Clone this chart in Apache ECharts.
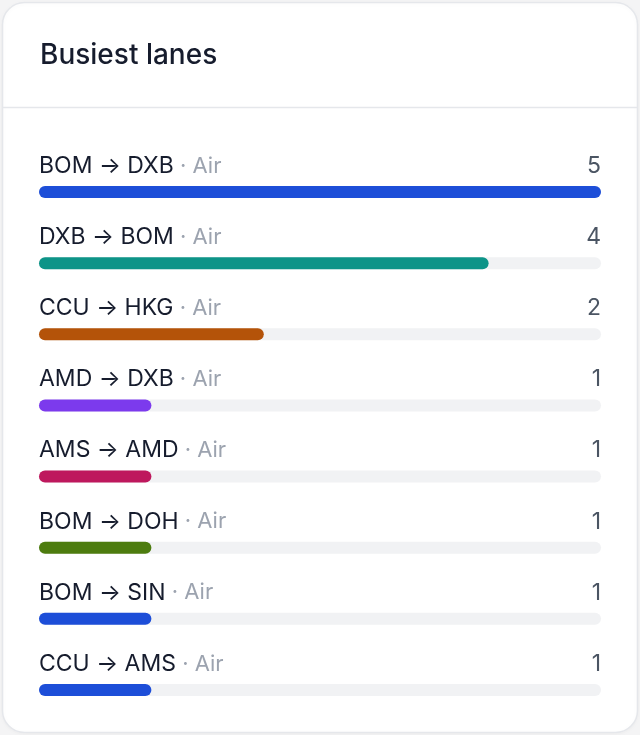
<!DOCTYPE html>
<html>
<head>
<meta charset="utf-8">
<script src="https://cdn.jsdelivr.net/npm/echarts@6/dist/echarts.min.js"></script>
<style>
html,body{margin:0;padding:0;background:#f4f4f5;}
#chart{width:640px;height:735px;}
</style>
</head>
<body>
<div id="chart"></div>
<script>
const lanes = ['BOM → DXB', 'DXB → BOM', 'CCU → HKG', 'AMD → DXB', 'AMS → AMD', 'BOM → DOH', 'BOM → SIN', 'CCU → AMS'];
const modes = ['Air', 'Air', 'Air', 'Air', 'Air', 'Air', 'Air', 'Air'];
const counts = [5, 4, 2, 1, 1, 1, 1, 1];
const barColors = ['#1d4ed8', '#0d9488', '#b45309', '#7c3aed', '#be185d', '#4d7c0f', '#1d4ed8', '#1d4ed8'];
const maxCount = 5;

const FONT = 'Inter, "Noto Sans", sans-serif';
const chart = echarts.init(document.getElementById('chart'), null, {renderer: 'canvas'});

chart.setOption({
  backgroundColor: 'transparent',
  animation: false,
  graphic: [
    {type: 'rect', shape: {x: 2.5, y: 2.5, width: 635, height: 730, r: 22},
     style: {fill: '#ffffff', stroke: '#e5e7eb', lineWidth: 1.5,
       shadowBlur: 4, shadowColor: 'rgba(0,0,0,0.04)', shadowOffsetY: 1}, z: -10},
    {type: 'line', shape: {x1: 3, y1: 107.5, x2: 637, y2: 107.5},
     style: {stroke: '#e5e7eb', lineWidth: 1.5}, z: -9},
    {type: 'text', left: 40, top: 42,
     style: {text: 'Busiest lanes', fill: '#161c2d', font: '500 28px ' + FONT}}
  ],
  grid: {left: 39, right: 39, top: 156.5, bottom: 9.5, containLabel: false},
  xAxis: {type: 'value', min: 0, max: maxCount, show: false},
  yAxis: {type: 'category', data: lanes, inverse: true, show: false},
  series: [
    {
      type: 'bar',
      data: counts.map((v, i) => ({value: v, itemStyle: {color: barColors[i]}})),
      barWidth: 12,
      itemStyle: {borderRadius: 6},
      showBackground: true,
      backgroundStyle: {color: '#f1f2f4', borderRadius: 6},
      z: 3
    },
    {
      type: 'bar',
      data: counts.map(() => maxCount),
      barWidth: 12,
      barGap: '-100%',
      itemStyle: {color: 'rgba(0,0,0,0)'},
      silent: true,
      z: 1,
      label: {
        show: true,
        position: [0, -20],
        align: 'left',
        verticalAlign: 'middle',
        formatter: p => '{a|' + lanes[p.dataIndex] + '}{b| · ' + modes[p.dataIndex] + '}',
        rich: {
          a: {fontFamily: FONT, fontSize: 23, color: '#161c2d'},
          b: {fontFamily: FONT, fontSize: 22, color: '#9ca3af'}
        }
      }
    },
    {
      type: 'bar',
      data: counts.map(() => maxCount),
      barWidth: 12,
      barGap: '-100%',
      itemStyle: {color: 'rgba(0,0,0,0)'},
      silent: true,
      z: 1,
      label: {
        show: true,
        position: ['100%', -20],
        align: 'right',
        verticalAlign: 'middle',
        formatter: p => String(counts[p.dataIndex]),
        fontFamily: FONT, fontSize: 23, color: '#4b5563'
      }
    }
  ]
});
</script>
</body>
</html>
